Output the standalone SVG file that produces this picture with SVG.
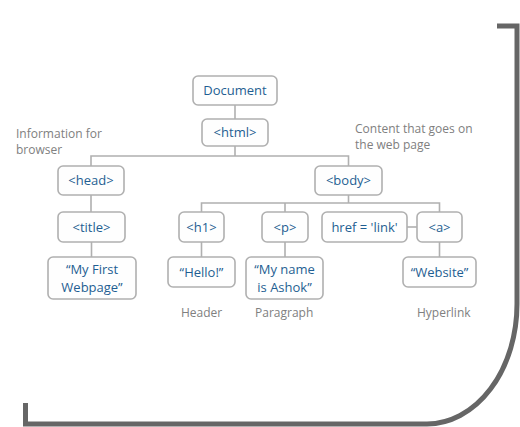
<svg xmlns="http://www.w3.org/2000/svg" width="520" height="427" viewBox="0 0 520 427">
<style>
.n rect{fill:#fefefe;stroke:#b0b0b0;stroke-width:1.6}
.n text{font-family:"Open Sans","Noto Sans",sans-serif;font-size:13px;fill:#1f5e92;text-anchor:middle}
.c{stroke:#b0b0b0;stroke-width:1.6;fill:none}
.l{font-family:"Open Sans","Noto Sans",sans-serif;font-size:12px;fill:#808080}
</style>
<rect width="520" height="427" fill="#ffffff"/>
<path d="M497,26 H517 V304 A90,120 0 0 1 427,424 H25.5 V403" fill="none" stroke="#666666" stroke-width="5"/>
<g id="connectors" class="c">
<path d="M235,105 V119"/>
<path d="M235,146 V156 M91,166 V156 H348.5 V166"/>
<path d="M91,195 V212 M91.5,242 V257"/>
<path d="M348.5,195 V203 M201.5,212 V203 H439.5 V212 M285,203 V212"/>
<path d="M201.5,242 V257 M285,242 V257 M439.5,242 V257"/>
<path d="M407,227 H417"/>
</g>
<g id="document" class="n"><rect x="193" y="76" width="84" height="29" rx="5"/><text x="235" y="95">Document</text></g>
<g id="html" class="n"><rect x="202" y="119" width="66" height="27" rx="5"/><text x="235" y="137">&lt;html&gt;</text></g>
<g id="head" class="n"><rect x="58" y="166" width="66" height="29" rx="5"/><text x="91" y="185">&lt;head&gt;</text></g>
<g id="body" class="n"><rect x="315" y="166" width="67" height="29" rx="5"/><text x="348.5" y="185">&lt;body&gt;</text></g>
<g id="title" class="n"><rect x="58" y="212" width="67" height="30" rx="5"/><text x="91.5" y="232">&lt;title&gt;</text></g>
<g id="h1" class="n"><rect x="179" y="212" width="45" height="30" rx="5"/><text x="201.5" y="232">&lt;h1&gt;</text></g>
<g id="p" class="n"><rect x="262" y="212" width="46" height="30" rx="5"/><text x="285" y="232">&lt;p&gt;</text></g>
<g id="href" class="n"><rect x="322" y="212" width="85" height="30" rx="5"/><text x="364.5" y="232">href = 'link'</text></g>
<g id="a" class="n"><rect x="417" y="212" width="45" height="30" rx="5"/><text x="439.5" y="232">&lt;a&gt;</text></g>
<g id="myfirst" class="n"><rect x="48" y="257" width="88" height="42" rx="5"/><text x="92" y="274">“My First</text><text x="92" y="292">Webpage”</text></g>
<g id="hello" class="n"><rect x="168" y="257" width="67" height="30" rx="5"/><text x="201.5" y="277">“Hello!”</text></g>
<g id="myname" class="n"><rect x="246" y="257" width="77" height="42" rx="5"/><text x="284.5" y="274">“My name</text><text x="284.5" y="292">is Ashok”</text></g>
<g id="website" class="n"><rect x="403" y="257" width="73" height="30" rx="5"/><text x="439.5" y="277">“Website”</text></g>
<g id="labels">
<text class="l" x="16" y="138">Information for</text>
<text class="l" x="16" y="154">browser</text>
<text class="l" x="355" y="133">Content that goes on</text>
<text class="l" x="355" y="149">the web page</text>
<text class="l" x="181" y="317">Header</text>
<text class="l" x="255" y="317">Paragraph</text>
<text class="l" x="417" y="317">Hyperlink</text>
</g>
</svg>
